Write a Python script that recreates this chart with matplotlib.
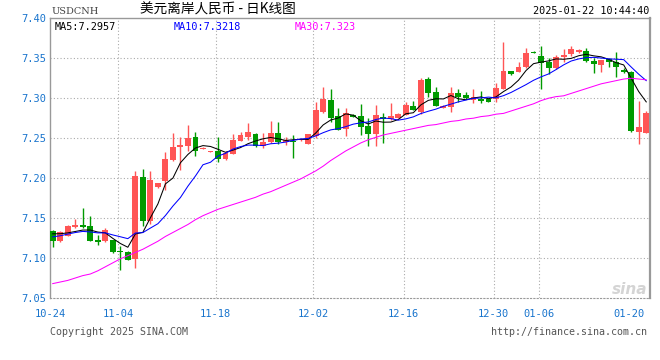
"""USDCNH 日K线图 (新浪财经风格) 复刻."""

import numpy as np
import matplotlib
matplotlib.use('Agg')
import matplotlib.pyplot as plt

# ── 数据: 每根K线 开/高/低/收 ──
OPEN = [7.1341, 7.1208, 7.1279, 7.1391, 7.1416, 7.1404, 7.1225, 7.1208, 7.1222, 7.1078,
        7.1075, 7.0988, 7.2008, 7.1458, 7.1883, 7.1958, 7.2229, 7.2395, 7.2404, 7.2513,
        7.2370, 7.2333, 7.2345, 7.2238, 7.2304, 7.2470, 7.2520, 7.2554, 7.2404, 7.2450,
        7.2563, 7.2450, 7.2470, 7.2475, 7.2433, 7.2530, 7.2825, 7.2979, 7.2779, 7.2613,
        7.2791, 7.2779, 7.2654, 7.2554, 7.2763, 7.2738, 7.2758, 7.2795, 7.2904, 7.2830,
        7.3238, 7.3083, 7.2883, 7.2895, 7.3063, 7.3041, 7.2979, 7.2988, 7.2988, 7.2991,
        7.3116, 7.3341, 7.3333, 7.3395, 7.3583, 7.3533, 7.3450, 7.3375, 7.3520, 7.3550,
        7.3575, 7.3591, 7.3466, 7.3416, 7.3491, 7.3458, 7.3354, 7.3325, 7.2583, 7.2570]
HIGH = [7.1354, 7.1335, 7.1410, 7.1491, 7.1625, 7.1520, 7.1291, 7.1375, 7.1230, 7.1145,
        7.1083, 7.2083, 7.2108, 7.2091, 7.1940, 7.2333, 7.2563, 7.2512, 7.2666, 7.2575,
        7.2390, 7.2345, 7.2520, 7.2341, 7.2554, 7.2583, 7.2688, 7.2563, 7.2563, 7.2716,
        7.2708, 7.2520, 7.2541, 7.2490, 7.2554, 7.2958, 7.3138, 7.3116, 7.2875, 7.2875,
        7.2800, 7.2925, 7.2750, 7.2916, 7.2813, 7.2938, 7.2810, 7.2950, 7.2970, 7.3258,
        7.3270, 7.3145, 7.2910, 7.3145, 7.3113, 7.3080, 7.3116, 7.3091, 7.2995, 7.3188,
        7.3700, 7.3345, 7.3458, 7.3625, 7.3590, 7.3658, 7.3500, 7.3541, 7.3616, 7.3658,
        7.3610, 7.3633, 7.3500, 7.3480, 7.3500, 7.3583, 7.3375, 7.3341, 7.2966, 7.2841]
LOW = [7.1133, 7.1200, 7.1279, 7.1379, 7.1379, 7.1208, 7.1166, 7.1200, 7.1058, 7.0850,
       7.0970, 7.0875, 7.1395, 7.1425, 7.1880, 7.1854, 7.2216, 7.2104, 7.2341, 7.2283,
       7.2365, 7.2330, 7.2208, 7.2229, 7.2300, 7.2470, 7.2479, 7.2395, 7.2375, 7.2438,
       7.2429, 7.2416, 7.2258, 7.2470, 7.2433, 7.2500, 7.2813, 7.2708, 7.2604, 7.2529,
       7.2760, 7.2540, 7.2408, 7.2408, 7.2434, 7.2729, 7.2755, 7.2790, 7.2854, 7.2800,
       7.3020, 7.2904, 7.2880, 7.2825, 7.2958, 7.2990, 7.2938, 7.2938, 7.2950, 7.2958,
       7.3116, 7.3295, 7.3330, 7.3383, 7.3560, 7.3116, 7.3300, 7.3370, 7.3450, 7.3533,
       7.3570, 7.3458, 7.3313, 7.3333, 7.3395, 7.3270, 7.3313, 7.2583, 7.2425, 7.2570]
CLOSE = [7.1216, 7.1325, 7.1404, 7.1416, 7.1391, 7.1216, 7.1200, 7.1354, 7.1070, 7.1072,
         7.0979, 7.2029, 7.1458, 7.1979, 7.1938, 7.2234, 7.2395, 7.2416, 7.2500, 7.2341,
         7.2383, 7.2341, 7.2238, 7.2313, 7.2479, 7.2541, 7.2583, 7.2408, 7.2450, 7.2563,
         7.2458, 7.2479, 7.2450, 7.2480, 7.2554, 7.2854, 7.2991, 7.2758, 7.2604, 7.2813,
         7.2771, 7.2645, 7.2554, 7.2791, 7.2738, 7.2779, 7.2804, 7.2916, 7.2854, 7.3229,
         7.3063, 7.2904, 7.2904, 7.3070, 7.3020, 7.3008, 7.3013, 7.2970, 7.2958, 7.3133,
         7.3341, 7.3300, 7.3395, 7.3563, 7.3563, 7.3438, 7.3375, 7.3520, 7.3541, 7.3616,
         7.3604, 7.3466, 7.3425, 7.3479, 7.3458, 7.3395, 7.3325, 7.2591, 7.2645, 7.2813]

# 窗口之前的收盘价 (用于 MA5 / MA10 起点)
PRE_CLOSE = [7.118, 7.120, 7.122, 7.125, 7.128, 7.132, 7.135, 7.133, 7.130]

# MA30
MA30 = [7.068, 7.070, 7.072, 7.075, 7.078, 7.080, 7.084, 7.089, 7.094, 7.099,
        7.103, 7.107, 7.111, 7.116, 7.121, 7.127, 7.132, 7.137, 7.142, 7.148,
        7.153, 7.157, 7.161, 7.164, 7.167, 7.170, 7.173, 7.176, 7.180, 7.183,
        7.187, 7.191, 7.195, 7.199, 7.204, 7.209, 7.215, 7.222, 7.228, 7.234,
        7.239, 7.244, 7.248, 7.251, 7.254, 7.256, 7.258, 7.260, 7.262, 7.264,
        7.266, 7.267, 7.269, 7.271, 7.272, 7.274, 7.275, 7.277, 7.278, 7.280,
        7.281, 7.284, 7.287, 7.290, 7.293, 7.297, 7.300, 7.302, 7.303, 7.306,
        7.309, 7.312, 7.315, 7.318, 7.320, 7.322, 7.324, 7.325, 7.324, 7.323]

DATE_LABELS = ['10-24', '11-04', '11-18', '12-02', '12-16', '12-30', '01-06', '01-20']
DATE_INDEX = [0, 9, 22, 35, 47, 59, 65, 77]
GRID_INDEX = [9, 22, 35, 47, 59, 65]
Y_TICKS = [7.05, 7.10, 7.15, 7.20, 7.25, 7.30, 7.35, 7.40]

UP = '#ff5555'
DOWN = '#009a00'
AXIS_BLUE = '#1874cd'
MONO = 'DejaVu Sans Mono'

plt.rcParams['font.family'] = ['Noto Sans CJK SC', 'DejaVu Sans']

o = np.array(OPEN)
h = np.array(HIGH)
l = np.array(LOW)
c = np.array(CLOSE)
n = len(c)
x = np.arange(n)

allc = np.concatenate([PRE_CLOSE, c])
ma5 = np.array([allc[i + 9 - 4:i + 10].mean() for i in range(n)])
ma10 = np.array([allc[i:i + 10].mean() for i in range(n)])

W, H = 660, 360
fig = plt.figure(figsize=(W / 100, H / 100), dpi=100)
ax = fig.add_axes([50 / W, 1 - 298 / H, 600 / W, (298 - 18.3) / H])

# 网格
dot = (0, (1, 2))
for yv in Y_TICKS[1:-1]:
    ax.axhline(yv, color='#aaaaaa', lw=0.8, ls=dot, zorder=0)
for gi in GRID_INDEX:
    ax.axvline(gi - 0.3, color='#aaaaaa', lw=0.8, ls=dot, zorder=0)

# K线
up = c >= o
colors = np.where(up, UP, DOWN)
ax.vlines(x, l, h, colors=colors, lw=1, zorder=2)
body_bot = np.minimum(o, c)
body_h = np.maximum(np.abs(c - o), 0.0012)
ax.bar(x, body_h, bottom=body_bot, width=0.78, color=colors, lw=0, zorder=3)

# 均线
ax.plot(x, ma5, color='black', lw=0.75, zorder=4)
ax.plot(x, ma10, color='#0000ff', lw=0.75, zorder=4)
ax.plot(x, MA30, color='#ff00ff', lw=0.75, zorder=4)

ax.set_xlim(-0.36, 79.5)
ax.set_ylim(7.05, 7.40)

ax.set_yticks(Y_TICKS)
ax.set_yticklabels([f'{v:.2f}' for v in Y_TICKS], family=MONO, fontsize=7.5,
                   color=AXIS_BLUE)
ax.set_xticks([i - 0.3 for i in DATE_INDEX])
ax.set_xticklabels(DATE_LABELS, family=MONO, fontsize=7.5, color=AXIS_BLUE)
ax.tick_params(axis='y', length=0, pad=3)
ax.tick_params(axis='x', length=0, pad=8)

for side in ['left', 'top']:
    ax.spines[side].set_color('#999999')
    ax.spines[side].set_linewidth(1)
ax.spines['right'].set_color('#999999')
ax.spines['right'].set_linewidth(1.6)
ax.spines['bottom'].set_color('#999999')
ax.spines['bottom'].set_linestyle(dot)
ax.spines['bottom'].set_linewidth(0.8)

# 水印
ax.text(0.995, 0.005, 'sina', transform=ax.transAxes, ha='right', va='bottom',
        fontsize=11, fontstyle='italic', fontweight='bold', color='#d4d4d4',
        family='DejaVu Sans', zorder=1)

# 图内均线数值
ax.text(5 / 600, 0.985, 'MA5:7.2957', transform=ax.transAxes, ha='left', va='top',
        family=MONO, fontsize=7.3, color='black')
ax.text(124 / 600, 0.985, 'MA10:7.3218', transform=ax.transAxes, ha='left', va='top',
        family=MONO, fontsize=7.3, color='#0000ff')
ax.text(245 / 600, 0.985, 'MA30:7.323', transform=ax.transAxes, ha='left', va='top',
        family=MONO, fontsize=7.3, color='#ff00ff')

# 标题行
fig.text(52 / W, 1 - 12 / H, 'USDCNH', ha='left', va='center', family='DejaVu Serif',
         fontsize=7, color='#444444')
fig.text(140 / W, 1 - 9.5 / H, '美元离岸人民币 - 日K线图', ha='left', va='center',
         fontsize=9.8, color='black')
fig.text(649 / W, 1 - 11 / H, '2025-01-22 10:44:40', ha='right', va='center',
         family=MONO, fontsize=7.3, color='black')

# 底部版权
fig.text(50 / W, 1 - 332 / H, 'Copyright 2025 SINA.COM', ha='left', va='center',
         family=MONO, fontsize=7.2, color='#555555')
fig.text(647 / W, 1 - 332 / H, 'http://finance.sina.com.cn', ha='right', va='center',
         family=MONO, fontsize=7.2, color='#555555')

fig.savefig('out.png', dpi=100)
